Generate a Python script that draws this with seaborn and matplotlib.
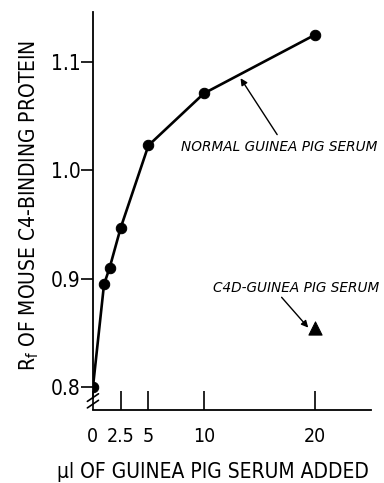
import matplotlib
matplotlib.use("Agg")
import matplotlib.pyplot as plt
import seaborn as sns
import pandas as pd

# Data
normal_x = [0, 1, 1.5, 2.5, 5, 10, 20]
normal_y = [0.800, 0.895, 0.910, 0.947, 1.023, 1.071, 1.125]
c4d_x = [20]
c4d_y = [0.855]
x_ticks = [0, 2.5, 5, 10, 20]
x_ticklabels = ["0", "2.5", "5", "10", "20"]
y_ticks = [0.8, 0.9, 1.0, 1.1]
y_ticklabels = ["0.8", "0.9", "1.0", "1.1"]

sns.set_theme(style="white")
FAM = ["DejaVu Sans"]
plt.rcParams["font.family"] = FAM
plt.rcParams["font.stretch"] = "condensed"

fig = plt.figure(figsize=(3.84, 4.83), dpi=100)
ax = fig.add_axes([0.242, 0.151, 0.724, 0.824])

df = pd.DataFrame({"x": normal_x, "y": normal_y})
sns.lineplot(data=df, x="x", y="y", sort=False, color="black", lw=1.9,
             marker="o", markersize=7.5, markeredgecolor="black", ax=ax)
df2 = pd.DataFrame({"x": c4d_x, "y": c4d_y})
sns.scatterplot(data=df2, x="x", y="y", marker="^", s=90, color="black",
                edgecolor="black", ax=ax, zorder=5)

ax.set_xlim(0, 25.05)
ax.set_ylim(0.779, 1.146)

ax.set_xticks(x_ticks)
ax.set_xticklabels(x_ticklabels)
ax.set_yticks(y_ticks)
ax.set_yticklabels(y_ticklabels)
ax.tick_params(axis="x", direction="in", length=14, width=1.2, colors="black",
               labelsize=14, pad=12.5, bottom=True)
ax.tick_params(axis="y", direction="out", length=8.5, width=1.2, colors="black",
               labelsize=15, pad=0.5, left=True)
for lab in ax.get_xticklabels() + ax.get_yticklabels():
    lab.set_fontstretch("condensed")

for s in ["top", "right"]:
    ax.spines[s].set_visible(False)
for s in ["left", "bottom"]:
    ax.spines[s].set_color("black")
    ax.spines[s].set_linewidth(1.3)
ax.spines["left"].set_bounds(0.79, 1.146)

# axis break marks at bottom of y-axis
for dy in (0.0, 0.006):
    ax.plot([-0.5, 0.5], [0.781 + dy, 0.788 + dy], color="black", lw=1.2,
            clip_on=False, transform=ax.transData)

ax.set_xlabel("\u00b5l OF GUINEA PIG SERUM ADDED", fontsize=15, labelpad=10,
              color="black", fontstretch="condensed", fontweight="medium")
ax.xaxis.set_label_coords(0.43, -0.13)
ax.set_ylabel("R$_\\mathregular{f}$ OF MOUSE C4-BINDING PROTEIN", fontsize=15,
              labelpad=10, color="black", fontstretch="condensed")
ax.yaxis.set_label_coords(-0.187, 0.515)

ax.annotate("", xy=(13.3, 1.085), xytext=(16.6, 1.033),
            arrowprops=dict(arrowstyle="-|>", color="black", lw=1.0,
                            mutation_scale=10, shrinkA=0, shrinkB=0))
ax.text(16.8, 1.022, "NORMAL GUINEA PIG SERUM", fontsize=9.8, style="italic",
        ha="center", va="center", color="black", family=["DejaVu Sans"],
        fontstretch="normal", clip_on=False)
ax.annotate("", xy=(19.4, 0.855), xytext=(17.0, 0.883),
            arrowprops=dict(arrowstyle="-|>", color="black", lw=1.0,
                            mutation_scale=10, shrinkA=0, shrinkB=0))
ax.text(18.3, 0.892, "C4D-GUINEA PIG SERUM", fontsize=9.8, style="italic",
        ha="center", va="center", color="black", family=["DejaVu Sans"],
        fontstretch="normal", clip_on=False)

fig.savefig("out.png", dpi=100)
